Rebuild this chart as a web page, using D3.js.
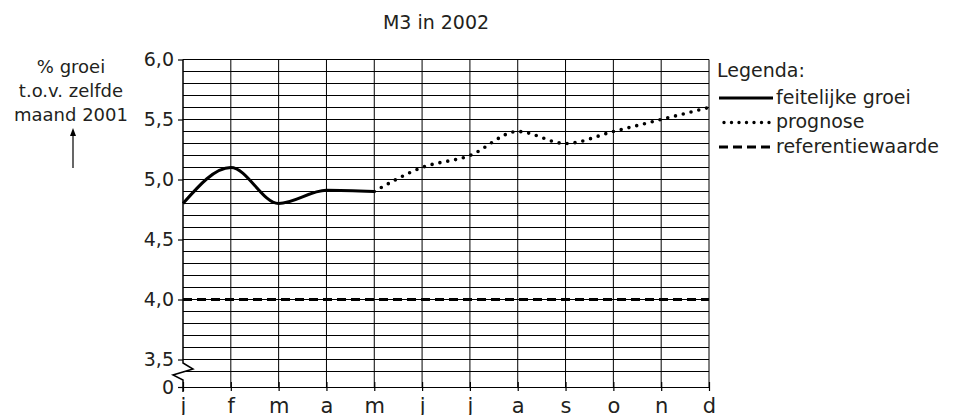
<!DOCTYPE html>
<html>
<head>
<meta charset="utf-8">
<script src="https://cdn.jsdelivr.net/npm/d3@7"></script>
<style>
  body { margin: 0; background: #fff; }
  svg text { font-family: "DejaVu Sans", Verdana, sans-serif; fill: #231f20; }
</style>
</head>
<body>
<div id="chart"></div>
<script>
// chart data
const months = ["j", "f", "m", "a", "m", "j", "j", "a", "s", "o", "n", "d"];
const actualMonths = [0, 1, 2, 3, 4];
const actualGrowth = [4.8, 5.1, 4.8, 4.91, 4.9];
const forecastMonths = [4, 5, 6, 7, 8, 9, 10, 11];
const forecastGrowth = [4.9, 5.1, 5.2, 5.4, 5.3, 5.4, 5.5, 5.6];
const referenceValue = 4.0;
const yTickValues = [0, 3.5, 4.0, 4.5, 5.0, 5.5, 6.0];
const yLabelLines = ["% groei", "t.o.v. zelfde", "maand 2001"];
const legendTitle = "Legenda:";
const legendLabels = ["feitelijke groei", "prognose", "referentiewaarde"];
const chartTitle = "M3 in 2002";

const width = 954, height = 415;
const plotLeft = 183, plotRight = 709, plotTop = 59.5, plotBottom = 387;

const svg = d3.select("#chart").append("svg")
  .attr("width", width)
  .attr("height", height);

const x = d3.scaleLinear().domain([0, months.length - 1]).range([plotLeft, plotRight]);
// broken axis: 0 sits just below 3,4
const y = d3.scaleLinear().domain([0, 3.4, 6.0]).range([plotBottom, 371.5, plotTop]);

// horizontal grid every 0,1
const gridValues = d3.range(34, 61).map(d => d / 10);
svg.append("g").attr("class", "hgrid")
  .selectAll("line")
  .data(gridValues)
  .enter().append("line")
  .attr("x1", plotLeft).attr("x2", plotRight)
  .attr("y1", d => y(d)).attr("y2", d => y(d))
  .style("stroke", "#000")
  .style("stroke-width", 1);

// vertical grid at each month
svg.append("g").attr("class", "vgrid")
  .selectAll("line")
  .data(d3.range(1, months.length))
  .enter().append("line")
  .attr("x1", d => x(d)).attr("x2", d => x(d))
  .attr("y1", plotTop).attr("y2", plotBottom)
  .style("stroke", "#000")
  .style("stroke-width", 1);

// x axis
const xAxis = svg.append("g")
  .attr("transform", "translate(0," + plotBottom + ")")
  .call(d3.axisBottom(x).tickValues(d3.range(months.length)).tickFormat(i => months[i]).tickSizeOuter(0));
xAxis.select(".domain").style("stroke", "#000").style("stroke-width", 1.2);
xAxis.selectAll(".tick line").attr("y1", -5).attr("y2", 4).style("stroke", "#000").style("stroke-width", 1.2);
xAxis.selectAll(".tick text").attr("y", 11).style("font-size", "21px");

// y axis
const yAxis = svg.append("g")
  .attr("transform", "translate(" + plotLeft + ",0)")
  .call(d3.axisLeft(y).tickValues(yTickValues).tickSize(5)
    .tickFormat(d => d === 0 ? "0" : d3.format(".1f")(d).replace(".", ",")));
yAxis.select(".domain").remove();
yAxis.selectAll(".tick line").style("stroke", "#000").style("stroke-width", 1.2);
yAxis.selectAll(".tick text").attr("x", -9).style("font-size", "19px");

// axis line with break
svg.append("path")
  .attr("d", "M" + plotLeft + "," + plotTop + "V363L" + (plotLeft + 10) + ",369L" + (plotLeft - 10) + ",375L" + plotLeft + ",380V392")
  .style("fill", "none")
  .style("stroke", "#000")
  .style("stroke-width", 1.5);

// reference line
svg.append("line")
  .attr("x1", plotLeft).attr("x2", plotRight)
  .attr("y1", y(referenceValue)).attr("y2", y(referenceValue))
  .style("stroke", "#000")
  .style("stroke-width", 3)
  .style("stroke-dasharray", "9,5");

const line = d3.line()
  .x(d => x(d[0]))
  .y(d => y(d[1]))
  .curve(d3.curveMonotoneX);

svg.append("path")
  .datum(d3.zip(forecastMonths, forecastGrowth))
  .attr("d", line)
  .style("fill", "none")
  .style("stroke", "#000")
  .style("stroke-width", 3.6)
  .style("stroke-linecap", "round")
  .style("stroke-dasharray", "0,8");

svg.append("path")
  .datum(d3.zip(actualMonths, actualGrowth))
  .attr("d", line)
  .style("fill", "none")
  .style("stroke", "#000")
  .style("stroke-width", 3);

// title
svg.append("text")
  .attr("x", 436).attr("y", 29)
  .attr("text-anchor", "middle")
  .style("font-size", "19px")
  .text(chartTitle);

// y label with arrow
svg.append("g").selectAll("text")
  .data(yLabelLines)
  .enter().append("text")
  .attr("x", 71)
  .attr("y", (d, i) => 73 + i * 24)
  .attr("text-anchor", "middle")
  .style("font-size", "18px")
  .text(d => d);

svg.append("line")
  .attr("x1", 73).attr("x2", 73)
  .attr("y1", 168).attr("y2", 133)
  .style("stroke", "#000")
  .style("stroke-width", 1.2);
svg.append("path")
  .attr("d", "M73,128L70,136L76,136Z")
  .style("fill", "#000");

// legend
const legend = svg.append("g");
legend.append("text")
  .attr("x", 717).attr("y", 77)
  .style("font-size", "19px")
  .text(legendTitle);

const legendDash = [null, "0,7.5", "9,5"];
const legendWidth = [3, 3.4, 3];
const legendStart = [719, 724, 719];
const entry = legend.selectAll(".entry")
  .data(legendLabels)
  .enter().append("g")
  .attr("class", "entry")
  .attr("transform", (d, i) => "translate(0," + (98 + i * 24.5) + ")");

entry.append("line")
  .attr("x1", (d, i) => legendStart[i]).attr("x2", 773)
  .style("stroke", "#000")
  .style("stroke-width", (d, i) => legendWidth[i])
  .style("stroke-linecap", (d, i) => i === 1 ? "round" : "butt")
  .style("stroke-dasharray", (d, i) => legendDash[i]);

entry.append("text")
  .attr("x", 776)
  .attr("y", 5.5)
  .style("font-size", "19px")
  .text(d => d);
</script>
</body>
</html>
